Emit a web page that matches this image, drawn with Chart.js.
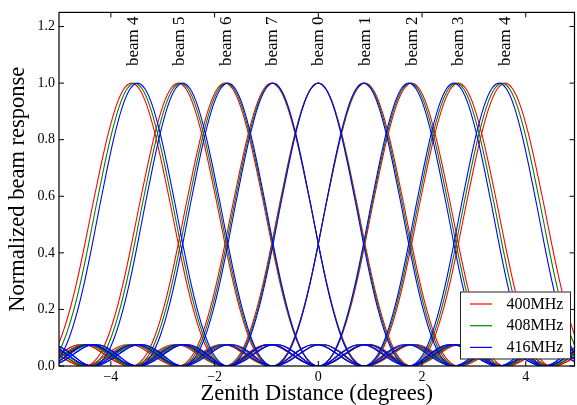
<!DOCTYPE html>
<html><head><meta charset="utf-8">
<script src="https://cdn.jsdelivr.net/npm/chart.js@4.4.1/dist/chart.umd.min.js"></script>
<style>html,body{margin:0;padding:0;background:#fff;} canvas{display:block;}</style>
</head><body>
<canvas id="c" width="577" height="405"></canvas>
<script>
// ---- data ----
const freqLabels = ['400MHz', '408MHz', '416MHz'];
const freqColors = ['#ff0000', '#008000', '#0000ff'];
// horizontal stretch of the whole beam pattern relative to 400MHz
const freqScale = [1.0, 0.984, 0.968];
const beamNames = ['beam 4', 'beam 5', 'beam 6', 'beam 7', 'beam 0', 'beam 1', 'beam 2', 'beam 3', 'beam 4'];
const beamCenters = [-3.6, -2.7, -1.8, -0.9, 0.0, 0.9, 1.8, 2.7, 3.6];   // degrees, 400MHz
// beam response vs. offset from the beam centre (degrees), one side
const profileOffset = [0.00, 0.15, 0.30, 0.45, 0.60, 0.75, 0.90, 1.05, 1.20, 1.35, 1.50, 1.65, 1.80,
                       1.95, 2.10, 2.25, 2.40, 2.55, 2.70, 2.85, 3.00, 3.15, 3.30, 3.45, 3.60,
                       3.75, 3.90, 4.05, 4.20, 4.35, 4.50, 4.65, 4.80, 4.95, 5.10, 5.25, 5.40,
                       5.55, 5.70, 5.85, 6.00, 6.15, 6.30, 6.45, 6.60, 6.75, 6.90, 7.05, 7.20,
                       7.35, 7.50, 7.65, 7.80, 7.95, 8.10, 8.25, 8.40, 8.55, 8.70, 8.85, 9.00];
const profileResponse = [1.000, 0.979, 0.918, 0.822, 0.702, 0.570, 0.432, 0.303, 0.193, 0.106, 0.045, 0.011, 0.000,
                         0.007, 0.025, 0.046, 0.064, 0.074, 0.075, 0.067, 0.051, 0.033, 0.016, 0.004, 0.000,
                         0.004, 0.016, 0.033, 0.051, 0.067, 0.075, 0.074, 0.064, 0.046, 0.025, 0.007, 0.000,
                         0.007, 0.025, 0.046, 0.064, 0.074, 0.075, 0.067, 0.051, 0.033, 0.016, 0.004, 0.000,
                         0.004, 0.016, 0.033, 0.051, 0.067, 0.075, 0.074, 0.064, 0.046, 0.025, 0.007, 0.000];
const beamLabelX = [-3.57, -2.67, -1.77, -0.88, 0.0, 0.91, 1.82, 2.71, 3.61];
const xTicks = [-4, -2, 0, 2, 4];
const yTicks = [0.0, 0.2, 0.4, 0.6, 0.8, 1.0, 1.2];

// ---- mirror the one-sided profile into a full beam curve ----
const fullOff = [], fullResp = [];
for (let i = profileOffset.length - 1; i > 0; i--) { fullOff.push(-profileOffset[i]); fullResp.push(profileResponse[i]); }
for (let i = 0; i < profileOffset.length; i++) { fullOff.push(profileOffset[i]); fullResp.push(profileResponse[i]); }

function beamCurve(c, s) {
  const pts = [];
  for (let i = 0; i < fullOff.length; i++) {
    const d = c + fullOff[i];
    if (d < -5.8 || d > 5.8) continue;
    pts.push({ x: d * s, y: fullResp[i] });
  }
  return pts;
}

const datasets = [];
freqLabels.forEach((f, fi) => {
  beamNames.forEach((b, bi) => {
    datasets.push({
      label: f + ' ' + b,
      data: beamCurve(beamCenters[bi], freqScale[fi]),
      borderColor: freqColors[fi],
      borderWidth: 1.1,
      pointRadius: 0,
      fill: false,
      cubicInterpolationMode: 'monotone',
      order: 3 - fi
    });
  });
});

Chart.defaults.font.family = "'Liberation Serif', 'Times New Roman', serif";
Chart.defaults.color = '#000';

const decorPlugin = {
  id: 'decor',
  afterDraw(chart) {
    const ctx = chart.ctx, a = chart.chartArea;
    const xs = chart.scales.x, ys = chart.scales.y;
    ctx.save();
    // frame
    ctx.strokeStyle = '#000';
    ctx.lineWidth = 1.2;
    ctx.strokeRect(a.left, a.top, a.right - a.left, a.bottom - a.top);
    // inward ticks on all four sides
    ctx.lineWidth = 1;
    const tl = 5;
    ctx.beginPath();
    xTicks.forEach(v => {
      const px = xs.getPixelForValue(v);
      ctx.moveTo(px, a.bottom); ctx.lineTo(px, a.bottom - tl);
      ctx.moveTo(px, a.top); ctx.lineTo(px, a.top + tl);
    });
    yTicks.forEach(v => {
      const py = ys.getPixelForValue(v);
      ctx.moveTo(a.left, py); ctx.lineTo(a.left + tl, py);
      ctx.moveTo(a.right, py); ctx.lineTo(a.right - tl, py);
    });
    ctx.stroke();
    // beam labels (rotated)
    ctx.fillStyle = '#000';
    ctx.font = "17px 'Liberation Serif', serif";
    beamNames.forEach((t, i) => {
      const px = xs.getPixelForValue(beamLabelX[i]);
      ctx.save();
      ctx.translate(px, 66);
      ctx.rotate(-Math.PI / 2);
      ctx.textAlign = 'left';
      ctx.textBaseline = 'middle';
      ctx.fillText(t, 0, 0);
      ctx.restore();
    });
    // legend box
    const lx = 460, ly = 291.5, lw = 110, lh = 67;
    ctx.fillStyle = '#fff';
    ctx.fillRect(lx, ly, lw, lh);
    ctx.strokeStyle = '#222';
    ctx.lineWidth = 1;
    ctx.strokeRect(lx + 0.5, ly + 0.5, lw, lh);
    ctx.font = "16px 'Liberation Serif', serif";
    ctx.textAlign = 'left';
    ctx.textBaseline = 'middle';
    freqLabels.forEach((f, i) => {
      const ry = 304 + i * 21.7;
      ctx.strokeStyle = freqColors[i];
      ctx.lineWidth = 1.2;
      ctx.beginPath(); ctx.moveTo(470, ry); ctx.lineTo(492, ry); ctx.stroke();
      ctx.fillStyle = '#000';
      ctx.fillText(f, 506.5, ry + 0.5);
    });
    ctx.restore();
  }
};

new Chart(document.getElementById('c'), {
  type: 'line',
  data: { datasets },
  options: {
    responsive: false,
    devicePixelRatio: 1,
    animation: false,
    events: [],
    layout: { padding: { top: 9.5, right: 2.5, left: 0, bottom: 0 } },
    plugins: { legend: { display: false }, tooltip: { enabled: false } },
    scales: {
      x: {
        type: 'linear', min: -5, max: 4.94,
        afterFit(s) { s.height = 39; },
        afterBuildTicks(s) { s.ticks = xTicks.map(v => ({ value: v })); },
        grid: { display: false, drawTicks: false },
        border: { display: false },
        ticks: { padding: 3, color: '#000', font: { size: 14 }, maxRotation: 0,
                 callback: v => String(v).replace('-', '\u2212') },
        title: { display: true, text: 'Zenith Distance (degrees)', color: '#000',
                 font: { size: 22.5, lineHeight: 1 }, padding: { top: 0, bottom: 0 } }
      },
      y: {
        type: 'linear', min: 0, max: 1.25,
        afterFit(s) { s.width = 59; },
        afterBuildTicks(s) { s.ticks = yTicks.map(v => ({ value: v })); },
        grid: { display: false, drawTicks: false },
        border: { display: false },
        ticks: { padding: 4, color: '#000', font: { size: 14 }, callback: v => Number(v).toFixed(1) },
        title: { display: true, text: 'Normalized beam response', color: '#000',
                 font: { size: 22.5, lineHeight: 1 }, padding: { top: 7, bottom: 0 } }
      }
    }
  },
  plugins: [decorPlugin]
});
</script>
</body></html>
